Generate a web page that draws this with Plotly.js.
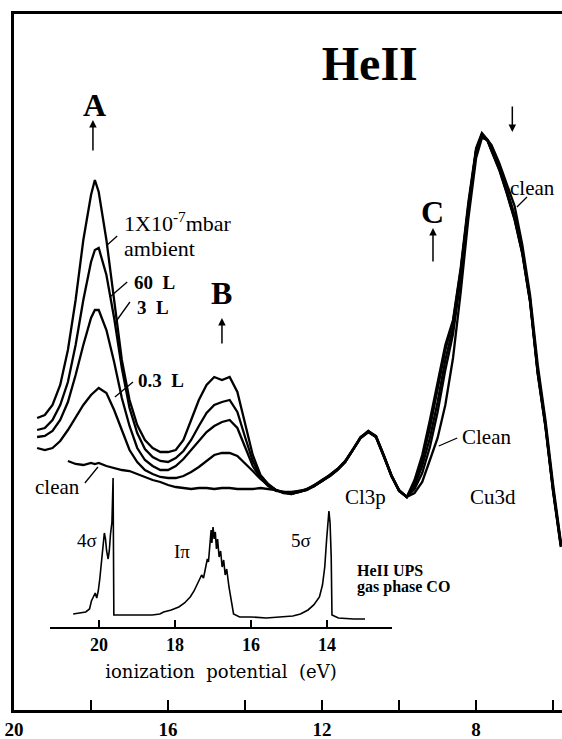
<!DOCTYPE html>
<html><head><meta charset="utf-8">
<script src="https://cdn.plot.ly/plotly-3.0.1.min.js"></script>
<style>html,body{margin:0;padding:0;background:#fff;}#chart{width:562px;height:739px;}</style>
</head><body><div id="chart"></div>
<script>
// Binding energy grid (eV)
const bindingEnergy = [19.4,19.2,19.0,18.8,18.6,18.4,18.2,18.0,17.9,17.8,
 17.6,17.4,17.2,17.0,16.8,16.6,16.4,16.2,16.0,15.8,
 15.6,15.4,15.2,15.0,14.8,14.6,14.4,14.2,14.0,13.8,
 13.6,13.4,13.2,13.0,12.8,12.6,12.4,12.2,12.0,11.8,
 11.6,11.4,11.2,11.0,10.8,10.6,10.4,10.2,10.0,9.8,
 9.6,9.4,9.2,9.0,8.8,8.6,8.4,8.2,8.0,7.85,
 7.7,7.6,7.4,7.2,7.0,6.8,6.6,6.4,6.2,6.0,
 5.8];
// Intensities (arb. units)
const ambient = [292,295,305,325,360,410,470,515,530,518,
 470,410,350,310,285,270,262,258,258,260,
 270,290,310,325,333,330,333,318,285,255,
 235,226,220,218,216,218,221,224,229,234,
 240,248,260,272,279,274,255,235,220,213,
 230,255,290,328,365,390,442,508,562,577,
 570,560,542,518,492,458,410,338,285,220,
 165];
const dose60L = [280,282,290,305,328,365,410,448,460,462,
 435,392,342,302,277,261,253,249,248,252,
 259,270,284,297,305,308,310,298,273,249,
 234,225,220,217,217,219,220,225,230,235,
 241,249,261,273,278,273,254,234,219,213,
 227,250,282,320,360,388,440,505,560,575,
 569,559,540,516,490,456,408,336,283,218,
 163];
const dose3L = [273,274,279,290,308,335,365,392,400,400,
 380,348,312,284,262,250,244,240,240,244,
 251,260,269,278,284,288,290,282,263,244,
 232,224,219,218,217,218,220,224,230,234,
 240,248,260,272,278,274,255,234,220,213,
 224,244,272,308,350,382,436,503,560,576,
 570,560,541,517,491,457,409,337,284,219,
 164];
const dose03L = [262,260,262,269,280,292,305,315,319,322,
 317,300,280,260,248,240,236,233,232,232,
 234,238,243,249,255,257,257,254,247,239,
 231,225,220,218,218,219,221,225,229,235,
 241,249,260,273,279,273,254,235,219,213,
 221,237,263,298,340,376,432,500,558,574,
 569,560,542,520,495,460,411,340,286,221,
 166];
const clean = [null,null,null,null,249,246,245,247,246,247,
 244,242,240,239,236,233,230,228,225,223,
 222,221,222,222,221,222,222,221,221,221,
 222,221,220,217,216,218,220,224,229,234,
 240,248,260,272,278,273,254,234,219,213,
 217,228,250,272,305,352,418,492,552,572,
 570,565,547,525,504,465,415,345,290,225,
 168];
// Inset: HeII UPS of gas phase CO
const ionizationPotential = [20.68,20.50,20.35,20.25,20.20,20.15,20.10,20.06,20.02,19.98,
 19.94,19.90,19.86,19.83,19.80,19.76,19.73,19.70,19.66,19.63,19.61,
 19.4,19.0,18.6,18.4,18.3,18.1,17.9,17.75,17.6,17.5,17.4,17.3,17.25,17.2,17.15,17.12,17.08,17.05,17.03,17.0,
 16.97,16.94,16.91,16.88,16.84,16.80,16.76,16.72,16.68,16.64,16.58,16.52,16.46,16.3,16.0,15.6,15.2,14.9,
 14.7,14.5,14.35,14.2,14.12,14.06,14.01,13.97,13.95,13.92,13.89,13.87,13.7,13.3,13.0];
const gasCO = [13,14,15,18,26,30,34,29,36,48,
 66,80,94,88,76,68,76,92,105,149,12,
 12,12,12,13,15,17,20,24,30,36,44,52,49,60,68,65,80,97,84,100,
 88,95,78,88,70,76,60,67,52,58,40,24,13,10,10,9,10,11,
 13,17,22,30,42,60,88,112,116,104,70,12,9,8,8];
const mainTickVals = [20,16,12,8];
const mainTickText = ['20','16','12','8'];
const mainMinorTicks = [18,14,10,6];
const insetTickVals = [20,18,16,14];
const insetTickText = ['20','18','16','14'];

const serif = 'Liberation Serif, Times New Roman, serif';
const line = {color:'#000', width:2.3};
const traces = [ambient, dose60L, dose3L, dose03L, clean].map((s,i)=>({
  x: bindingEnergy, y: s, type:'scatter', mode:'lines', line: line,
  xaxis:'x', yaxis:'y', hoverinfo:'skip', connectgaps:false
}));
traces.push({x: ionizationPotential, y: gasCO, type:'scatter', mode:'lines',
  line:{color:'#000', width:1.6}, xaxis:'x2', yaxis:'y2', hoverinfo:'skip'});

function txt(x,y,text,size,bold,xanchor,ref){
  return {xref: ref?ref[0]:'x', yref: ref?ref[1]:'y', x:x, y:y, text:text, showarrow:false,
    xanchor: xanchor||'center', yanchor:'middle',
    font:{family:serif, size:size, color:'#000', weight: bold?'bold':'normal'}};
}
function arrow(x,y,ay){
  return {xref:'x', yref:'y', x:x, y:y, ax:0, ay:ay, text:'', showarrow:true,
    arrowhead:2, arrowsize:1, arrowwidth:1.5, arrowcolor:'#000'};
}
function leader(x0,y0,x1,y1,ref){
  return {type:'line', xref: ref?ref[0]:'x', yref: ref?ref[1]:'y', x0:x0, y0:y0, x1:x1, y1:y1,
    line:{color:'#000', width:1.3}};
}
const inset = ['x2','y2'];
const annotations = [
  txt(17.92,605,'A',32,true), arrow(17.95,590,32),
  txt(14.62,417,'B',32,true), arrow(14.6,392,27),
  txt(9.14,498,'C',32,true), arrow(9.12,482,35),
  arrow(7.06,578,-27),
  txt(17.19,488,'1X10<sup>-7</sup>mbar',22,false,'left'),
  txt(17.19,462,'ambient',22,false,'left'),
  txt(16.94,428,'60\u00a0\u00a0L',19,true,'left'),
  txt(16.86,403,'3\u00a0\u00a0L',19,true,'left'),
  txt(16.83,330,'0.3\u00a0\u00a0L',19,true,'left'),
  txt(19.51,223,'clean',21,false,'left'),
  txt(8.42,273,'Clean',21,false,'left'),
  txt(7.16,522,'clean',21,false,'left'),
  txt(10.88,213,'Cl3p',21,false),
  txt(7.56,213,'Cu3d',21,false),
  txt(20.32,86,'4σ',19,false,'center',inset),
  txt(17.82,75,'Iπ',19,false,'center',inset),
  txt(14.68,86,'5σ',19,false,'center',inset),
  txt(13.26,56,'HeII UPS',16,true,'left',inset),
  txt(13.26,40,'gas phase CO',16,true,'left',inset)
];
const shapes = [
  leader(17.32,474,17.58,465),
  leader(17.06,428,17.51,413),
  leader(16.99,408,17.38,387),
  leader(16.91,328,17.38,313),
  leader(18.16,227,17.82,243),
  leader(8.49,272,8.97,264),
  leader(6.68,513,6.94,503)
];

const layout = {
  width:562, height:739,
  margin:{l:14, r:0, t:14, b:29},
  paper_bgcolor:'#fff', plot_bgcolor:'rgba(0,0,0,0)',
  showlegend:false,
  title:{text:'HeII', font:{family:serif, size:48, color:'#000', weight:'bold'},
    x:0.658, xanchor:'center', y:0.915, yanchor:'middle', xref:'container', yref:'container'},
  xaxis:{range:[20,5.77], showline:true, linewidth:3, linecolor:'#000', mirror:true,
    ticks:'inside', ticklen:10, tickwidth:1.5, tickcolor:'#000',
    tickmode:'array', tickvals:mainTickVals, ticktext:mainTickText,
    minor:{tickmode:'array', tickvals:mainMinorTicks, ticks:'inside', ticklen:10, tickwidth:1.5, tickcolor:'#000', showgrid:false},
    tickfont:{family:serif, size:19, color:'#000', weight:'bold'},
    showgrid:false, zeroline:false, fixedrange:true},
  yaxis:{range:[0,696], showline:true, linewidth:3, linecolor:'#000',
    ticks:'', showticklabels:false, showgrid:false, zeroline:false, fixedrange:true},
  xaxis2:{domain:[0.0657,0.6898], anchor:'y2', range:[21.29,12.29],
    showline:true, linewidth:2, linecolor:'#000',
    ticks:'inside', ticklen:7, tickwidth:1.2, tickcolor:'#000',
    tickmode:'array', tickvals:insetTickVals, ticktext:insetTickText,
    tickfont:{family:serif, size:18, color:'#000', weight:'bold'},
    title:{text:'ionization\u00a0\u00a0potential\u00a0\u00a0(eV)', font:{family:'DejaVu Serif, serif', size:18, color:'#000'}, standoff:12},
    showgrid:false, zeroline:false, fixedrange:true},
  yaxis2:{domain:[0.1193,0.4066], anchor:'x2', range:[0,200], visible:false, fixedrange:true},
  annotations: annotations,
  shapes: shapes
};
Plotly.newPlot('chart', traces, layout, {displayModeBar:false, staticPlot:true});
</script>
</body></html>
